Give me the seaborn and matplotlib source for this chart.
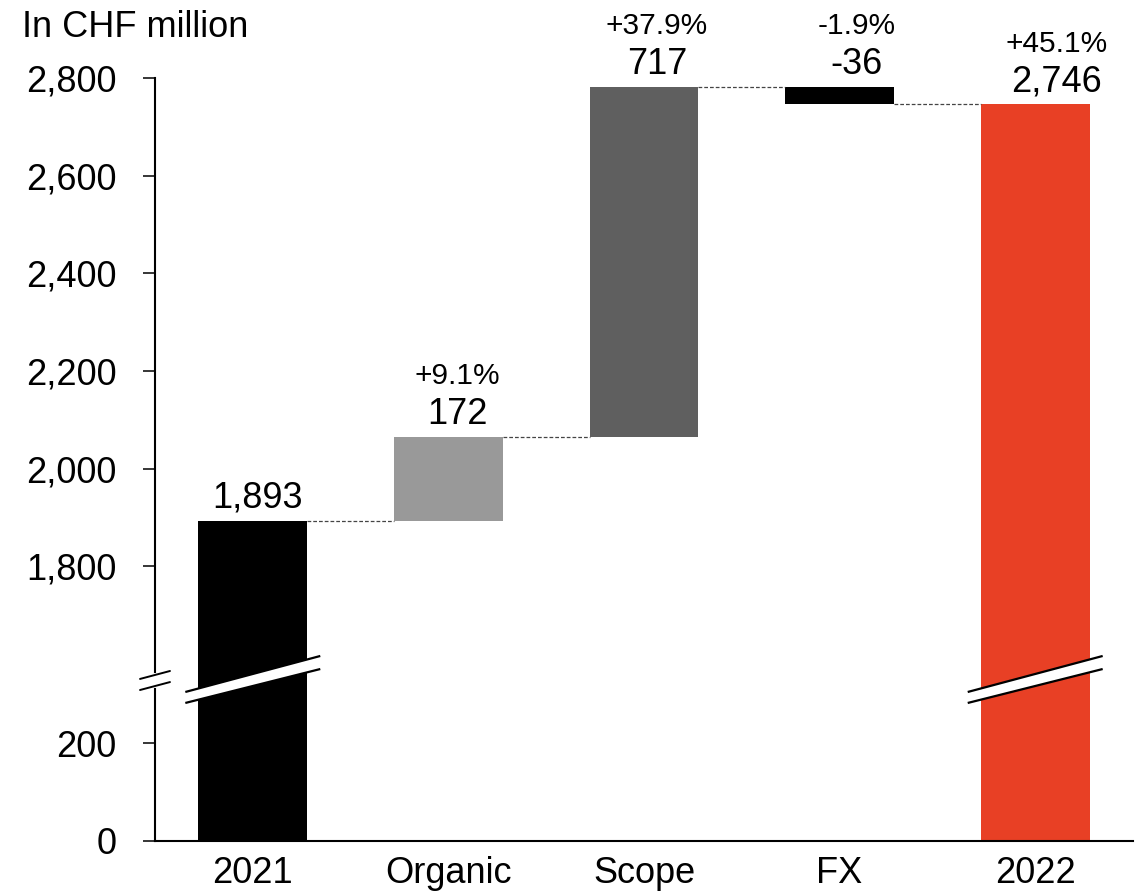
import numpy as np
import pandas as pd
import matplotlib
matplotlib.use("Agg")
import matplotlib.pyplot as plt
import seaborn as sns

# Revenue bridge 2021 -> 2022, CHF million
categories = ["2021", "Organic", "Scope", "FX", "2022"]
changes = [1893, 172, 717, -36, 2746]
pct_labels = ["", "+9.1%", "+37.9%", "-1.9%", "+45.1%"]
value_labels = ["1,893", "172", "717", "-36", "2,746"]
bar_colors = ["#000000", "#999999", "#5f5f5f", "#000000", "#e84025"]
ytick_values = [0, 200, 1800, 2000, 2200, 2400, 2600, 2800]

# Floating bar geometry of the waterfall
bottoms, heights, tops = [], [], []
running = 0
for i, v in enumerate(changes):
    if i == 0 or i == len(changes) - 1:
        bottoms.append(0)
        heights.append(v)
        running = v
    else:
        bottoms.append(min(running, running + v))
        heights.append(abs(v))
        running += v
    tops.append(bottoms[-1] + heights[-1])
levels = [changes[0]]
for v in changes[1:-1]:
    levels.append(levels[-1] + v)

df = pd.DataFrame({"category": categories, "height": heights})

sns.set_theme(style="white")
plt.rcParams["font.family"] = ["Liberation Sans", "DejaVu Sans"]
plt.rcParams["text.color"] = "black"
plt.rcParams["xtick.color"] = "black"
plt.rcParams["ytick.color"] = "black"

fig = plt.figure(figsize=(11.42, 8.93), dpi=100)
ax = fig.add_axes([155 / 1142, 1 - 841 / 893, (1133 - 155) / 1142, (841 - 78) / 893])

# Broken value axis: 320..1560 is squeezed into 2 units
LO, HI, SQ = 320.0, 1560.0, 2.0
GAP = HI - LO


def fwd(y):
    y = np.asarray(y, dtype=float)
    return np.where(y <= LO, y, np.where(y >= HI, y - GAP + SQ, LO + (y - LO) * SQ / GAP))


def inv(t):
    t = np.asarray(t, dtype=float)
    return np.where(t <= LO, t, np.where(t >= LO + SQ, t + GAP - SQ, LO + (t - LO) * GAP / SQ))


sns.barplot(data=df, x="category", y="height", bottom=bottoms, errorbar=None,
            width=0.556, saturation=1, color="#000000", linewidth=0, ax=ax)
for patch, c in zip(ax.patches, bar_colors):
    patch.set_facecolor(c)
    patch.set_edgecolor(c)

ax.set_yscale("function", functions=(fwd, inv))
ax.set_ylim(0, 2800)
ax.set_xlim(-0.5, len(categories) - 0.5)
ax.set_yticks(ytick_values)
ax.set_yticklabels([f"{v:,}" for v in ytick_values])
ax.set_xlabel("")
ax.set_ylabel("")

for side in ["top", "right"]:
    ax.spines[side].set_visible(False)
for side in ["left", "bottom"]:
    ax.spines[side].set_linewidth(1.5)
    ax.spines[side].set_color("black")
ax.tick_params(axis="y", direction="out", length=8.6, width=1.1, color="black",
               labelcolor="black", pad=19, labelsize=26, left=True)
ax.tick_params(axis="x", length=0, pad=10.5, labelsize=26, labelcolor="black")
ax.yaxis.set_minor_locator(matplotlib.ticker.NullLocator())

# Dashed connectors between consecutive bars
hw = 0.556 / 2
for i, lvl in enumerate(levels):
    ax.plot([i + hw, i + 1 - hw], [lvl, lvl], color="#444444", lw=0.9,
            ls=(0, (3, 1.6)), zorder=3)

# Value and percentage labels
for i, (top, vl, pl) in enumerate(zip(tops, value_labels, pct_labels)):
    dx = 3.6 + 2.9 * i
    ax.annotate(vl, xy=(i, top), xytext=(dx, 9.4), textcoords="offset points",
                ha="center", va="baseline", fontsize=26, color="black")
    if pl:
        ax.annotate(pl, xy=(i, top), xytext=(dx, 38), textcoords="offset points",
                    ha="center", va="baseline", fontsize=21.5, color="black")

# Break markers across the first and last bars
xt = ax.get_xaxis_transform()
for xc in (0, len(categories) - 1):
    xl, xr = xc - 0.345, xc + 0.345
    up_l, up_r = 0.1953, 0.2425
    lo_l, lo_r = 0.1809, 0.2254
    ax.fill([xl, xr, xr, xl], [lo_l, lo_r, up_r, up_l], color="white",
            transform=xt, zorder=4, clip_on=False, lw=0)
    ax.plot([xl, xr], [up_l, up_r], color="black", lw=1.6, transform=xt,
            zorder=5, clip_on=False, solid_capstyle="butt")
    ax.plot([xl, xr], [lo_l, lo_r], color="black", lw=1.6, transform=xt,
            zorder=5, clip_on=False, solid_capstyle="butt")

# Break marks on the value axis
ta = ax.transAxes
ax.plot([0, 0], [0.2031, 0.2176], color="white", lw=3, transform=ta,
        zorder=5, clip_on=False)
for yc in (0.2176, 0.2031):
    ax.plot([-0.0153, 0.0153], [yc - 0.0052, yc + 0.0052], color="black", lw=1.4,
            transform=ta, zorder=6, clip_on=False)

fig.text(22 / 1142, 1 - 37 / 893, "In CHF million", fontsize=26,
         ha="left", va="baseline", color="black")

fig.savefig("out.png", dpi=100)
